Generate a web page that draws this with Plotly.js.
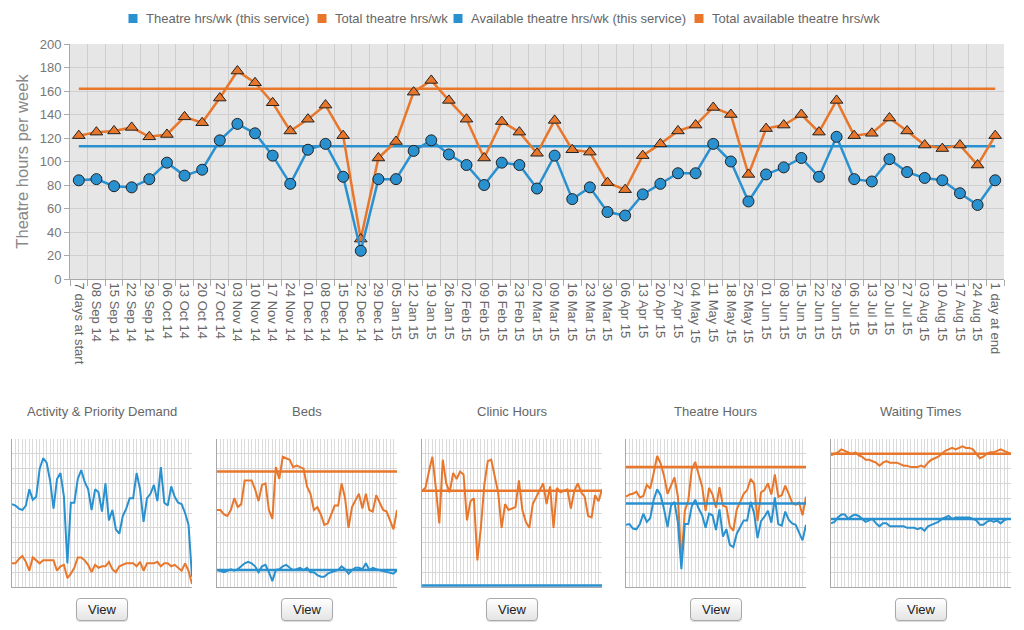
<!DOCTYPE html>
<html>
<head>
<meta charset="utf-8">
<script src="https://cdn.plot.ly/plotly-3.0.1.min.js"></script>
<style>
  html, body { margin:0; padding:0; background:#fff; }
  #wrap { position:relative; width:1024px; height:630px; }
  #chart { position:absolute; left:0; top:0; width:1024px; height:630px; }
  .vbtn { position:absolute; top:598px; width:52px; height:23px; box-sizing:border-box;
    border:1px solid #a9a9a9; border-radius:4px; background:linear-gradient(#ffffff,#e4e4e4);
    font-family:"Liberation Sans", Arial, sans-serif; font-size:13px; color:#222;
    text-align:center; line-height:21px; box-shadow:0 1px 1px rgba(0,0,0,0.15); }
</style>
</head>
<body>
<div id="wrap">
  <div id="chart"></div>
</div>
<script>
// ---------- data ----------
const labels = ["7 days at start","08 Sep 14","15 Sep 14","22 Sep 14","29 Sep 14","06 Oct 14","13 Oct 14","20 Oct 14","27 Oct 14","03 Nov 14","10 Nov 14","17 Nov 14","24 Nov 14","01 Dec 14","08 Dec 14","15 Dec 14","22 Dec 14","29 Dec 14","05 Jan 15","12 Jan 15","19 Jan 15","26 Jan 15","02 Feb 15","09 Feb 15","16 Feb 15","23 Feb 15","02 Mar 15","09 Mar 15","16 Mar 15","23 Mar 15","30 Mar 15","06 Apr 15","13 Apr 15","20 Apr 15","27 Apr 15","04 May 15","11 May 15","18 May 15","25 May 15","01 Jun 15","08 Jun 15","15 Jun 15","22 Jun 15","29 Jun 15","06 Jul 15","13 Jul 15","20 Jul 15","27 Jul 15","03 Aug 15","10 Aug 15","17 Aug 15","24 Aug 15","1 day at end"];

const theatreThis  = [84,85,79,78,85,99,88,93,118,132,124,105,81,110,115,87,24,85,85,109,118,106,97,80,99,97,77,105,68,78,57,54,72,81,90,90,115,100,66,89,95,103,87,121,85,83,102,91,86,84,73,63,84];
const theatreTotal = [122,125,126,129,121,123,138,133,154,177,167,150,126,136,148,122,34,103,117,159,169,152,136,103,134,125,107,135,110,108,82,76,105,115,126,131,146,140,89,128,131,140,125,152,122,124,137,126,114,111,114,97,122];
const availableThis  = 113;
const availableTotal = 162;

const seriesNames = ["Theatre hrs/wk (this service)","Total theatre hrs/wk","Available theatre hrs/wk (this service)","Total available theatre hrs/wk"];

// thumbnails (relative scale 0-100)
const activityBlue   = [56,55,53,52,55,66,59,61,80,87,84,72,53,73,77,61,16,57,57,73,79,71,66,52,66,64,51,70,45,52,39,36,48,53,60,60,77,66,44,60,63,69,58,81,57,55,68,61,57,56,50,42,7];
const activityOrange = [16,16,19,21,17,11,20,18,16,18,18,18,18,11,14,15,6,9,13,20,20,18,15,10,15,13,14,14,17,12,10,14,15,16,16,16,14,17,11,16,16,16,17,14,16,16,14,15,13,11,16,11,2];
const bedsOrange = [52,52,49,48,52,60,54,56,72,72,72,66,58,69,70,52,46,81,73,88,87,86,81,82,81,80,68,63,52,54,49,42,43,49,55,55,70,60,40,54,58,63,53,63,52,51,62,57,52,51,45,39,52];
const bedsBlue   = [11.5,11,10,11,12,11,12,14,16,17,16,14,10,14,15,10,4,11.5,12,14,15,13,11.5,12,13,11.5,13,10,10,8,7,7,9,10,11,11.5,14,12,9,11.5,13,13,12,16,11.5,13,12,11.5,11,10,10,9,11.5];
const bedsOrangeRef = 78;
const bedsBlueRef   = 11.5;
const clinicOrange = [65,67,78,88,67,43,86,70,64,77,73,78,76,45,58,60,18,40,69,85,86,75,64,40,56,52,53,54,72,52,44,40,56,61,65,70,56,68,40,67,64,65,66,53,65,70,64,61,48,47,62,58,66];
const clinicOrangeRef = 65;
const clinicBlueRef   = 1;
const waitOrange = [89,90,91,93,92,91,90,91,89,88,86,86,85,84,82,84,85,84,84,84,83,82,82,81,81,81,82,81,84,86,87,88,90,92,93,94,93,94,95,94,94,93,90,87,88,90,91,91,92,93,92,91,90];
const waitBlue   = [43,44,47,49,49,46,48,49,48,46,44,45,46,43,41,43,43,41,41,41,41,41,40,40,40,39,40,38,41,42,43,44,46,47,48,46,47,47,47,47,47,46,45,42,42,44,45,44,45,43,45,46,46];
const waitOrangeRef = 90;
const waitBlueRef   = 46;

const thumbTitles = ["Activity & Priority Demand","Beds","Clinic Hours","Theatre Hours","Waiting Times"];

// ---------- style ----------
const BLUE = '#2a91d0';
const ORANGE = '#e8772b';
const FONT = '"Liberation Sans", Arial, Helvetica, sans-serif';
const first = labels[0], last = labels[labels.length-1];
const W = 1024, H = 630;

const traces = [];
// main chart
traces.push({x:[first,last], y:[availableThis,availableThis], name:seriesNames[2], mode:'lines', line:{color:BLUE,width:2.5}, showlegend:false, hoverinfo:'skip', xaxis:'x', yaxis:'y'});
traces.push({x:[first,last], y:[availableTotal,availableTotal], name:seriesNames[3], mode:'lines', line:{color:ORANGE,width:2.5}, showlegend:false, hoverinfo:'skip', xaxis:'x', yaxis:'y'});
traces.push({x:labels, y:theatreTotal, name:seriesNames[1], mode:'lines+markers', line:{color:ORANGE,width:2.5},
  marker:{symbol:'triangle-up', size:11, color:ORANGE, line:{color:'#222',width:1}}, showlegend:false, xaxis:'x', yaxis:'y'});
traces.push({x:labels, y:theatreThis, name:seriesNames[0], mode:'lines+markers', line:{color:BLUE,width:2.5},
  marker:{symbol:'circle', size:11, color:BLUE, line:{color:'#222',width:1}}, showlegend:false, xaxis:'x', yaxis:'y'});

// thumbnails
function tl(k, y, color) { traces.push({x:labels, y:y, mode:'lines', line:{color:color,width:2}, showlegend:false, hoverinfo:'skip', xaxis:'x'+k, yaxis:'y'+k}); }
function tref(k, v, color) { traces.push({x:[first,last], y:[v,v], mode:'lines', line:{color:color,width:2.5}, showlegend:false, hoverinfo:'skip', xaxis:'x'+k, yaxis:'y'+k}); }
tl(2, activityOrange, ORANGE); tl(2, activityBlue, BLUE);
tref(3, bedsOrangeRef, ORANGE); tl(3, bedsOrange, ORANGE); tl(3, bedsBlue, BLUE); tref(3, bedsBlueRef, BLUE);
tref(4, clinicOrangeRef, ORANGE); tl(4, clinicOrange, ORANGE); tref(4, clinicBlueRef, BLUE);
tref(5, availableTotal, ORANGE); tl(5, theatreTotal, ORANGE); tl(5, theatreThis, BLUE); tref(5, availableThis, BLUE);
tref(6, waitOrangeRef, ORANGE); tl(6, waitOrange, ORANGE); tl(6, waitBlue, BLUE); tref(6, waitBlueRef, BLUE);

const layout = {
  width:W, height:H, margin:{l:0,r:0,t:0,b:0},
  paper_bgcolor:'#fff', plot_bgcolor:'#fff',
  font:{family:FONT, color:'#666', size:13},
  showlegend:false,
  xaxis:{domain:[70/W,1004/W], anchor:'y', type:'category', categoryorder:'array', categoryarray:labels, tickson:'boundaries', range:[-0.5,52.5],
    tickmode:'linear', dtick:1, ticks:'outside', ticklen:6, tickcolor:'#aaa', tickangle:90, tickfont:{size:13,color:'#666'},
    showgrid:true, gridcolor:'#cfcfcf', showline:true, linecolor:'#aaa', fixedrange:true},
  yaxis:{domain:[1-279/H, 1-44/H], anchor:'x', range:[0,200], dtick:20, ticks:'outside', ticklen:5, tickcolor:'#aaa',
    showline:true, linecolor:'#aaa', gridcolor:'#cfcfcf', zeroline:false, tickfont:{size:13,color:'#777'},
    title:{text:'Theatre hours per week', font:{size:16.5,color:'#888'}, standoff:6}, fixedrange:true},
  shapes:[{type:'rect', xref:'x domain', yref:'y domain', x0:0, x1:1, y0:0, y1:1, fillcolor:'#e6e6e6', line:{width:0}, layer:'below'}],
  annotations:[]
};

// legend (squares + labels)
const legendColors = [BLUE, ORANGE, BLUE, ORANGE];
const legendSquareX = [133, 322, 458, 699];
seriesNames.forEach((n,i) => {
  const cx = legendSquareX[i];
  layout.shapes.push({type:'rect', xref:'paper', yref:'paper', x0:(cx-4.5)/W, x1:(cx+4.5)/W, y0:1-23/H, y1:1-14/H, fillcolor:legendColors[i], line:{width:0}});
  layout.annotations.push({text:n, xref:'paper', yref:'paper', x:(cx+11)/W, y:1-18/H, xanchor:'left', yanchor:'middle', showarrow:false, font:{size:13,color:'#666'}});
});

const boxes = [12,217,422,626,831];
boxes.forEach((bx,i) => {
  const k = i+2;
  layout['xaxis'+k] = {domain:[bx/W,(bx+180)/W], anchor:'y'+k, type:'category', categoryorder:'array', categoryarray:labels, range:[0,52],
    tickmode:'linear', dtick:1, showticklabels:false, ticks:'',
    showgrid:true, gridcolor:'#dadada', showline:true, linecolor:'#a8a8a8', zeroline:false, fixedrange:true};
  layout['yaxis'+k] = {domain:[1-587/H, 1-439/H], anchor:'x'+k, range:(k===5?[0,200]:[0,100]), dtick:(k===5?20:10), showticklabels:false, ticks:'',
    showgrid:true, gridcolor:'#d6d6d6', showline:true, linecolor:'#a8a8a8', zeroline:false, fixedrange:true};
  layout.annotations.push({text:thumbTitles[i], xref:'paper', yref:'paper', x:(bx+90)/W, y:1-411/H, xanchor:'center', yanchor:'middle', showarrow:false, font:{size:13,color:'#666'}});
  const b = document.createElement('div'); b.className='vbtn'; b.textContent='View'; b.style.left=(bx+90-26)+'px';
  document.getElementById('wrap').appendChild(b);
});

Plotly.newPlot('chart', traces, layout, {displayModeBar:false, staticPlot:true});
</script>
</body>
</html>
